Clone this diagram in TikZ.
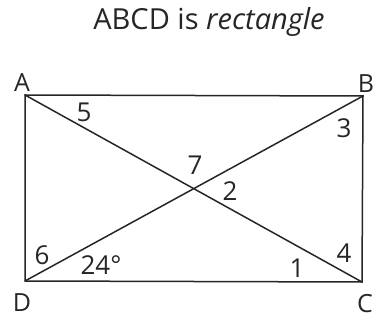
\documentclass[tikz,border=0pt]{standalone}
\usepackage{fontspec}
\setmainfont{Open Sans}
\begin{document}
\begin{tikzpicture}[x=1pt,y=-1pt,
  edge/.style={draw=black!85, line width=1.5pt, line cap=round},
  lbl/.style={font=\fontsize{25}{28}\selectfont, inner sep=0pt, text=black!85},
  num/.style={font=\fontsize{26}{28}\selectfont, inner sep=0pt, text=black!85}]
\useasboundingbox (0,0) rectangle (375,320);
\coordinate (A) at (25,95);
\coordinate (B) at (363,96);
\coordinate (C) at (362,282);
\coordinate (D) at (25,281);
\draw[edge] (A) -- (B) -- (C) -- (D) -- cycle;
\draw[edge] (A) -- (C);
\draw[edge] (D) -- (B);
\node[lbl, font=\fontsize{29}{32}\selectfont] (title) at (209,22) {ABCD is \textit{rectangle}};
\node[lbl] (lA) at (22,83) {A};
\node[lbl] (lB) at (366,84) {B};
\node[lbl] (lC) at (365,304) {C};
\node[lbl] (lD) at (22,303) {D};
\node[num] (n5) at (84,112) {5};
\node[num] (n3) at (344,128) {3};
\node[num] (n7) at (195,165) {7};
\node[num] (n2) at (230,191) {2};
\node[num] (n6) at (42,255) {6};
\node[num] (n24) at (101,265) {24°};
\node[num] (n1) at (297,268) {1};
\node[num] (n4) at (344,253) {4};
\end{tikzpicture}
\end{document}
